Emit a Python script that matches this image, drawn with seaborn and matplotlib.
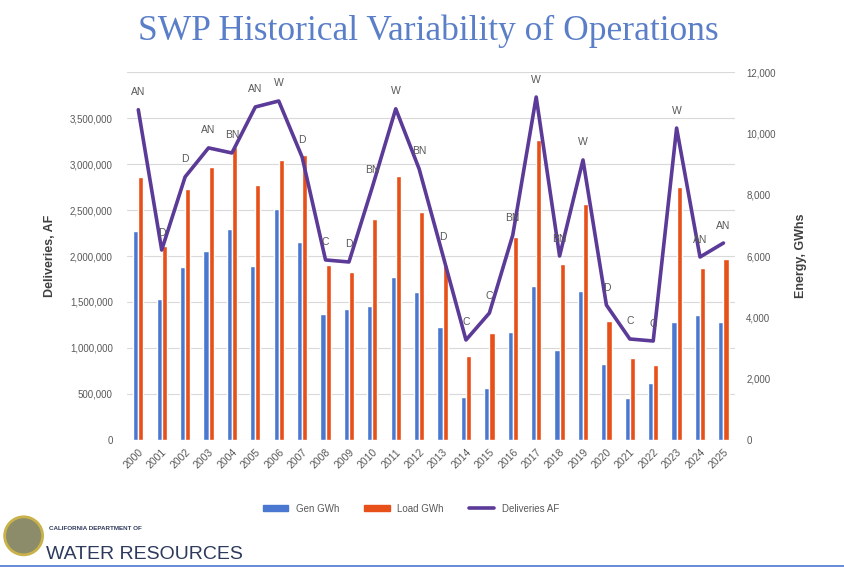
import matplotlib
matplotlib.use("Agg")
import matplotlib.pyplot as plt
from matplotlib.patches import Patch, Ellipse
from matplotlib.lines import Line2D
import numpy as np
import pandas as pd
import seaborn as sns

# -------------data-------------
years = [str(y) for y in range(2000, 2026)]
gen_gwh = [6820, 4590, 5640, 6160, 6890, 5670, 7540, 6460, 4100, 4260, 4360, 5310, 4820,
           3670, 1410, 1700, 3510, 5020, 2920, 4850, 2490, 1380, 1870, 3840, 4070, 3840]
load_gwh = [8560, 6330, 8200, 8890, 9570, 8300, 9120, 9280, 5700, 5480, 7210, 8620, 7440,
            5700, 2750, 3480, 6620, 9770, 5740, 7700, 3870, 2660, 2430, 8260, 5610, 5900]
deliveries_af = [3590000, 2065000, 2860000, 3175000, 3120000, 3620000, 3685000, 3075000,
                 1957000, 1935000, 2750000, 3600000, 2946000, 2020000, 1087000, 1380000,
                 2228000, 3728000, 2000000, 3044000, 1467000, 1098000, 1076000, 3391000,
                 1989000, 2141000]
year_type = ["AN", "D", "D", "AN", "BN", "AN", "W", "D", "C", "D", "BN", "W", "BN",
             "D", "C", "C", "BN", "W", "BN", "W", "D", "C", "C", "W", "AN", "AN"]

gen_col = "#4A78D0"
load_col = "#E8501A"
line_col = "#5B3A98"
txt_col = "#595959"

df = pd.DataFrame({"year": years * 2,
                   "gwh": gen_gwh + load_gwh,
                   "series": ["Gen GWh"] * len(years) + ["Load GWh"] * len(years)})

sns.set_style("white")
plt.rcParams['font.family'] = ['Liberation Sans', 'DejaVu Sans']

fig = plt.figure(figsize=(8.44, 5.67), dpi=100)
ax = fig.add_axes([0.150, 0.224, 0.721, 0.649])

# bars go on the energy axis (drawn at the right)
sns.barplot(data=df, x="year", y="gwh", hue="series", palette=[gen_col, load_col],
            width=0.44, gap=0, saturation=1, ax=ax, legend=False, zorder=2)
ax.set_ylim(0, 12000)
ax.set_xlim(-0.5, len(years) - 0.5)
ax.set_xlabel("")
ax.set_xticks(range(len(years)))
ax.set_xticklabels(years, rotation=45, ha="right", rotation_mode="anchor",
                   fontsize=7.5, color=txt_col)
for s in ax.spines.values():
    s.set_visible(False)

# light gridlines that follow the deliveries scale, behind the bars
for g in np.arange(0, 4000001, 500000):
    ax.axhline(g * 12000 / 4000000, color="#D9D9D9", lw=0.8, zorder=0)

# deliveries on the second axis, ticks on the left
ax2 = ax.twinx()
ax2.set_ylim(0, 4000000)
sns.lineplot(x=np.arange(len(years)), y=deliveries_af, color=line_col, lw=2.6, ax=ax2)
ax2.yaxis.tick_left()
ax2.yaxis.set_label_position("left")
ax2.set_yticks(np.arange(0, 3500001, 500000))
ax2.set_yticklabels([f"{v:,}" for v in range(0, 3500001, 500000)], fontsize=7, color=txt_col)
ax2.set_ylabel("Deliveries, AF", fontsize=9, color="#404040", fontweight="bold", labelpad=10)
ax2.tick_params(length=0, pad=10)
for s in ax2.spines.values():
    s.set_visible(False)

# twinx moved the energy ticks to the left, put them back on the right
ax.yaxis.tick_right()
ax.yaxis.set_label_position("right")
ax.set_yticks(np.arange(0, 12001, 2000))
ax.set_yticklabels([f"{v:,}" for v in range(0, 12001, 2000)], fontsize=7, color=txt_col)
ax.set_ylabel("Energy, GWhs", fontsize=9, color="#404040", fontweight="bold", labelpad=14)
ax.tick_params(length=0, pad=8)
ax.tick_params(axis="x", pad=5)

for i, lab in enumerate(year_type):
    ax2.annotate(lab, (i, deliveries_af[i]), xytext=(0, 9), textcoords="offset points",
                 ha="center", va="bottom", fontsize=7.5, color=txt_col)

handles = [Patch(color=gen_col, label="Gen GWh"),
           Patch(color=load_col, label="Load GWh"),
           Line2D([], [], color=line_col, lw=2.6, label="Deliveries AF")]
fig.legend(handles=handles, loc="center", bbox_to_anchor=(0.487, 0.103), ncol=3,
           frameon=False, fontsize=7, labelcolor=txt_col, handlelength=2.6,
           handleheight=0.6, columnspacing=2.6)

fig.text(0.508, 0.945, "SWP Historical Variability of Operations", ha="center", va="center",
         fontsize=25.5, color="#5A7FC8", family="Liberation Serif")

# department logo in the corner
seal = Ellipse((0.028, 0.055), 0.045, 0.067, transform=fig.transFigure,
               facecolor="#8C8C6A", edgecolor="#C9B24A", lw=2)
fig.patches.append(seal)
fig.text(0.058, 0.068, "CALIFORNIA DEPARTMENT OF", fontsize=4.5, fontweight="bold",
         color="#2E3A5C", va="center")
fig.text(0.054, 0.022, "WATER RESOURCES", fontsize=14, color="#2E3A5C", va="center")
fig.add_artist(Line2D([0, 1], [0.002, 0.002], color="#4A78D0", lw=1.2,
                      transform=fig.transFigure))

fig.savefig("out.png", dpi=100)
